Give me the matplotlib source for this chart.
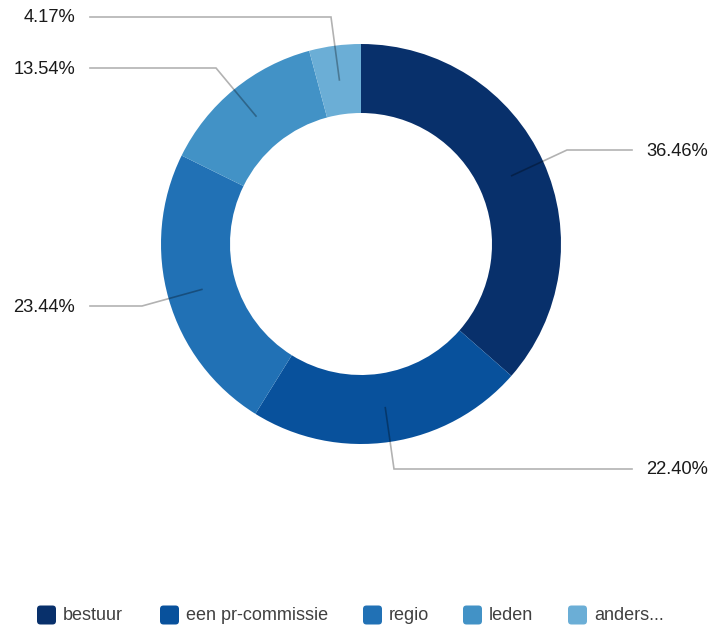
import numpy as np
import matplotlib
matplotlib.use('Agg')
import matplotlib.pyplot as plt
from matplotlib.patches import FancyBboxPatch

categories = ['bestuur', 'een pr-commissie', 'regio', 'leden', 'anders...']
shares = [36.46, 22.40, 23.44, 13.54, 4.17]
colors = ['#08306b', '#08519c', '#2171b5', '#4292c6', '#6baed6']

# label layout (pixel space, y measured from top)
label_elbow = [(567, 150), (394, 469), (142, 306), (216, 68), (331, 17)]
label_end_x = [632, 632, 90, 90, 90]
legend_x = [37, 160, 363, 463, 568]

W, H = 710, 628
cx, cy, R, ring = 361, H - 244, 200, 69

fig = plt.figure(figsize=(W / 100, H / 100), dpi=100)
ax = fig.add_axes([0, 0, 1, 1])

wedges, _ = ax.pie(shares, colors=colors, startangle=90, counterclock=False,
                   radius=R, center=(cx, cy), frame=True,
                   wedgeprops=dict(width=ring, linewidth=0))
ax.set_xlim(0, W)
ax.set_ylim(0, H)
ax.set_aspect('equal')
ax.axis('off')

total = sum(shares)
start = 90.0
for i, val in enumerate(shares):
    span = 360.0 * val / total
    mid = np.deg2rad(start - span / 2)
    start -= span
    r = R - ring / 2
    px, py = cx + r * np.cos(mid), cy + r * np.sin(mid)
    ex, ey = label_elbow[i][0], H - label_elbow[i][1]
    lx = label_end_x[i]
    ax.plot([px, ex, lx], [py, ey, ey], color='black', alpha=0.3, lw=1.2,
            solid_joinstyle='miter', zorder=5)
    if lx > ex:
        ax.text(lx + 14, ey - 1, '%.2f%%' % val, ha='left', va='center',
                fontsize=13.2, family='Liberation Sans', color='#1a1a1a')
    else:
        ax.text(lx - 15, ey - 1, '%.2f%%' % val, ha='right', va='center',
                fontsize=13.2, family='Liberation Sans', color='#1a1a1a')

ly = H - 615
for i, name in enumerate(categories):
    ax.add_patch(FancyBboxPatch((legend_x[i], ly - 9.5), 19, 19,
                                boxstyle='round,pad=0,rounding_size=3.5',
                                fc=colors[i], ec='none'))
    ax.text(legend_x[i] + 26, ly, name, ha='left', va='center',
            fontsize=13, family='Liberation Sans', color='#404040')

fig.savefig('out.png', dpi=100)
